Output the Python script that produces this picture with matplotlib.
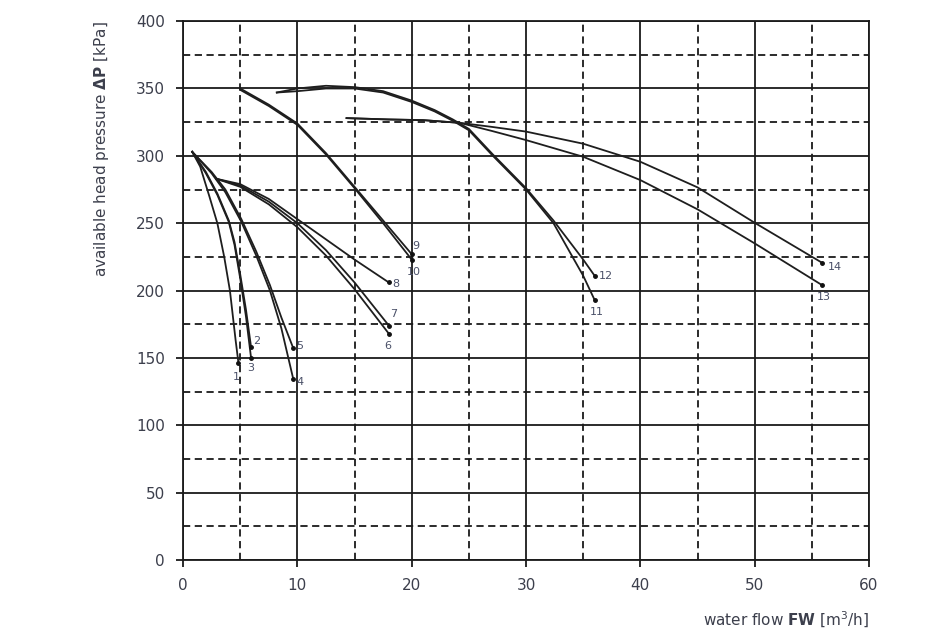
import matplotlib
matplotlib.use("Agg")
import matplotlib.pyplot as plt
from matplotlib.ticker import MultipleLocator

# pump curves: water flow [m3/h] vs available head [kPa]
curve_ids = ["1", "2", "3", "4", "5", "6", "7", "8", "9", "10", "11", "12", "13", "14"]

flows = [
    [0.8, 1.5, 2.3, 3.0, 3.6, 4.1, 4.6, 4.85],
    [0.8, 2.0, 3.0, 4.0, 4.5, 5.0, 5.5, 5.95],
    [0.8, 2.0, 3.0, 4.0, 4.5, 5.0, 5.5, 5.95],
    [0.8, 2.5, 3.7, 5.1, 6.4, 7.6, 8.6, 9.65],
    [0.8, 2.5, 3.7, 5.1, 6.4, 7.6, 8.6, 9.65],
    [2.9, 5.0, 7.5, 10.0, 12.5, 15.0, 18.0],
    [2.9, 5.0, 7.5, 10.0, 12.5, 15.0, 18.0],
    [2.9, 5.0, 7.5, 10.0, 12.5, 15.0, 18.0],
    [5.0, 7.5, 10.0, 12.5, 15.0, 17.5, 20.0],
    [5.0, 7.5, 10.0, 12.5, 15.0, 17.5, 20.0],
    [8.2, 10.0, 12.5, 15.0, 17.5, 20.0, 22.0, 23.6, 25.0, 27.1, 30.0, 32.4, 35.0, 36.0],
    [8.2, 10.0, 12.5, 15.0, 17.5, 20.0, 22.0, 23.6, 25.0, 27.1, 30.0, 32.4, 35.0, 36.0],
    [14.3, 18.0, 21.0, 24.2, 27.0, 30.0, 35.0, 40.0, 45.0, 50.0, 55.9],
    [14.3, 18.0, 21.0, 24.2, 27.0, 30.0, 35.0, 40.0, 45.0, 50.0, 55.9],
]

heads = [
    [303, 292, 270, 250, 225, 200, 163, 146],
    [303, 288, 272, 252, 236, 212, 186, 158],
    [303, 287, 271, 251, 234, 209, 181, 150],
    [303, 287, 273, 251, 226, 200, 172, 134],
    [303, 288, 275, 253, 229, 204, 180, 157],
    [283, 277, 264, 247, 226, 201, 168],
    [283, 278, 266, 250, 230, 206, 174],
    [283, 279, 268, 253, 238, 223, 206],
    [350, 338, 324, 302, 277, 252, 227],
    [349, 337, 323, 301, 276, 250, 223],
    [347, 348, 350, 350, 347, 340, 333, 326, 319, 300, 275, 250, 211, 193],
    [347, 350, 352, 351, 348, 341, 334, 327, 320, 301, 276, 252, 223, 211],
    [328, 327, 326.5, 324.5, 318.5, 311.7, 299.3, 282, 260.3, 235, 204],
    [328, 327, 326.5, 324.5, 321.5, 318, 309, 295.6, 276.6, 250.3, 220.6],
]

# where each curve number sits relative to the end dot (pixels)
label_offsets = [(-2, -14), (6, 6), (0, -10), (7, -3), (6, 2), (-1, -12), (5, 12), (7, -2),
                 (4, 8), (2, -12), (2, -12), (11, 0), (2, -12), (13, -4)]

fig = plt.figure(figsize=(9.45, 6.4), dpi=100)
ax = fig.add_axes([0.1937, 0.125, 0.7259, 0.842])

for cid, x, y, off in zip(curve_ids, flows, heads, label_offsets):
    ax.plot(x, y, color="#1e1e1e", lw=1.3, zorder=3)
    ax.plot(x[-1], y[-1], "o", color="#111111", ms=2.5, zorder=4)
    ax.annotate(cid, (x[-1], y[-1]), xytext=off, textcoords="offset pixels",
                ha="center", va="center", fontsize=8, color="#4a5068", zorder=5)

ax.set_xlim(0, 60)
ax.set_ylim(0, 400)
ax.xaxis.set_major_locator(MultipleLocator(10))
ax.yaxis.set_major_locator(MultipleLocator(50))
ax.xaxis.set_minor_locator(MultipleLocator(5))
ax.yaxis.set_minor_locator(MultipleLocator(25))

ax.grid(which="major", color="#1a1a1a", lw=1.3, ls="-")
ax.grid(which="minor", color="#1a1a1a", lw=1.3, ls=(0, (4, 2.5)))
ax.set_axisbelow(True)

for s in ["left", "bottom", "top", "right"]:
    ax.spines[s].set_linewidth(1.3)
    ax.spines[s].set_color("#1a1a1a")

ax.tick_params(which="major", length=5, width=1.3, color="#1a1a1a",
               labelsize=11, labelcolor="#3c3f4c", pad=8)
ax.tick_params(which="minor", length=0)

ax.set_ylabel(r"available head pressure $\mathbf{\Delta P}$ [kPa]", fontsize=11,
              color="#3c3f4c", labelpad=18, loc="top")
ax.set_xlabel(r"water flow $\mathbf{FW}$ [m$^3$/h]", fontsize=11, color="#3c3f4c",
              loc="right", labelpad=12)

fig.savefig("out.png", dpi=100)
